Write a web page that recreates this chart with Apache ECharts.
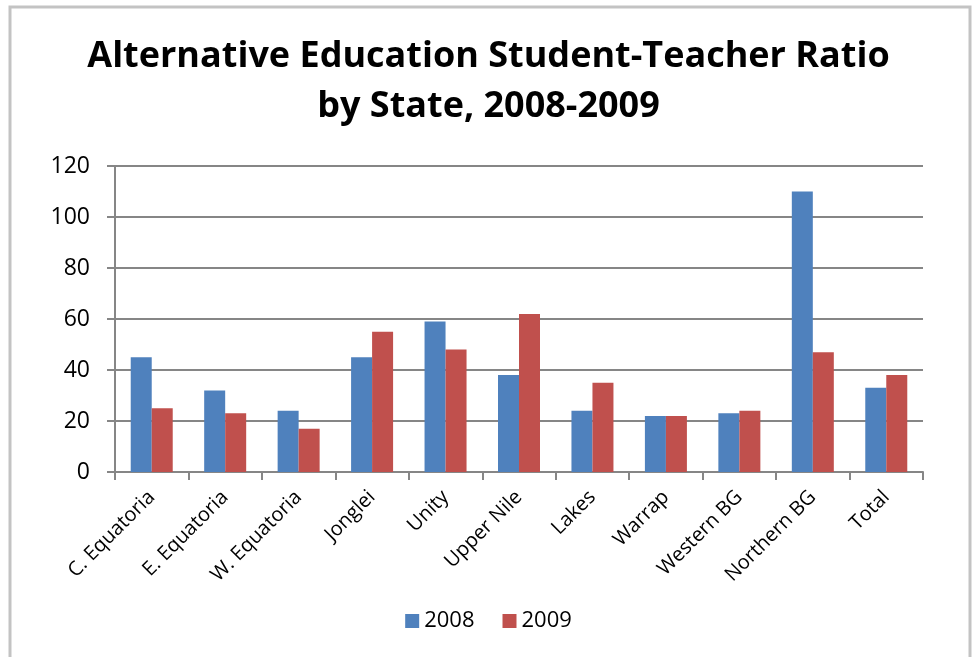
<!DOCTYPE html>
<html>
<head>
<meta charset="utf-8">
<script src="https://cdn.jsdelivr.net/npm/echarts@6/dist/echarts.min.js"></script>
<style>
  html, body { margin: 0; padding: 0; background: #fff; }
  #main { width: 977px; height: 657px; }
</style>
</head>
<body>
<div id="main"></div>
<script>
// data
var states = ['C. Equatoria', 'E. Equatoria', 'W. Equatoria', 'Jonglei', 'Unity',
  'Upper Nile', 'Lakes', 'Warrap', 'Western BG', 'Northern BG', 'Total'];
var ratio2008 = [45, 32, 24, 45, 59, 38, 24, 22, 23, 110, 33];
var ratio2009 = [25, 23, 17, 55, 48, 62, 35, 22, 24, 47, 38];
var yTicks = [0, 20, 40, 60, 80, 100, 120];

var font = '"Open Sans", "Liberation Sans", sans-serif';

var chart = echarts.init(document.getElementById('main'));
chart.setOption({
  animation: false,
  color: ['#4F81BD', '#C0504D'],
  graphic: [{
    type: 'rect',
    shape: { x: 10, y: 7, width: 960, height: 660 },
    style: { fill: 'none', stroke: '#c3c3c3', lineWidth: 3 },
    silent: true
  }],
  title: {
    text: 'Alternative Education Student-Teacher Ratio\nby State, 2008-2009',
    left: 'center',
    top: 27,
    textStyle: {
      fontFamily: font,
      fontWeight: 'bold',
      fontSize: 36,
      lineHeight: 50,
      color: '#000'
    }
  },
  legend: {
    bottom: 20,
    left: 'center',
    itemWidth: 14,
    itemHeight: 14,
    itemGap: 28,
    icon: 'rect',
    textStyle: { fontFamily: font, fontSize: 22, color: '#000' },
    data: ['2008', '2009']
  },
  grid: { left: 115, right: 54, top: 166, bottom: 185 },
  xAxis: {
    type: 'category',
    data: states,
    axisLine: { lineStyle: { color: '#868686', width: 2 } },
    axisTick: { show: true, length: 8, lineStyle: { color: '#868686', width: 2 } },
    axisLabel: {
      rotate: 45,
      margin: 22,
      interval: 0,
      fontFamily: font,
      fontSize: 20,
      color: '#000'
    }
  },
  yAxis: {
    type: 'value',
    min: yTicks[0],
    max: yTicks[yTicks.length - 1],
    interval: 20,
    axisLine: { show: true, lineStyle: { color: '#868686', width: 2 } },
    axisTick: { show: true, length: 8, lineStyle: { color: '#868686', width: 2 } },
    splitLine: { lineStyle: { color: '#868686', width: 2 } },
    axisLabel: {
      margin: 25,
      fontFamily: font,
      fontSize: 23,
      color: '#000'
    }
  },
  series: [
    {
      name: '2008',
      type: 'bar',
      data: ratio2008,
      barWidth: 21,
      barGap: '0%'
    },
    {
      name: '2009',
      type: 'bar',
      data: ratio2009,
      barWidth: 21,
      barGap: '0%'
    }
  ]
});
</script>
</body>
</html>
